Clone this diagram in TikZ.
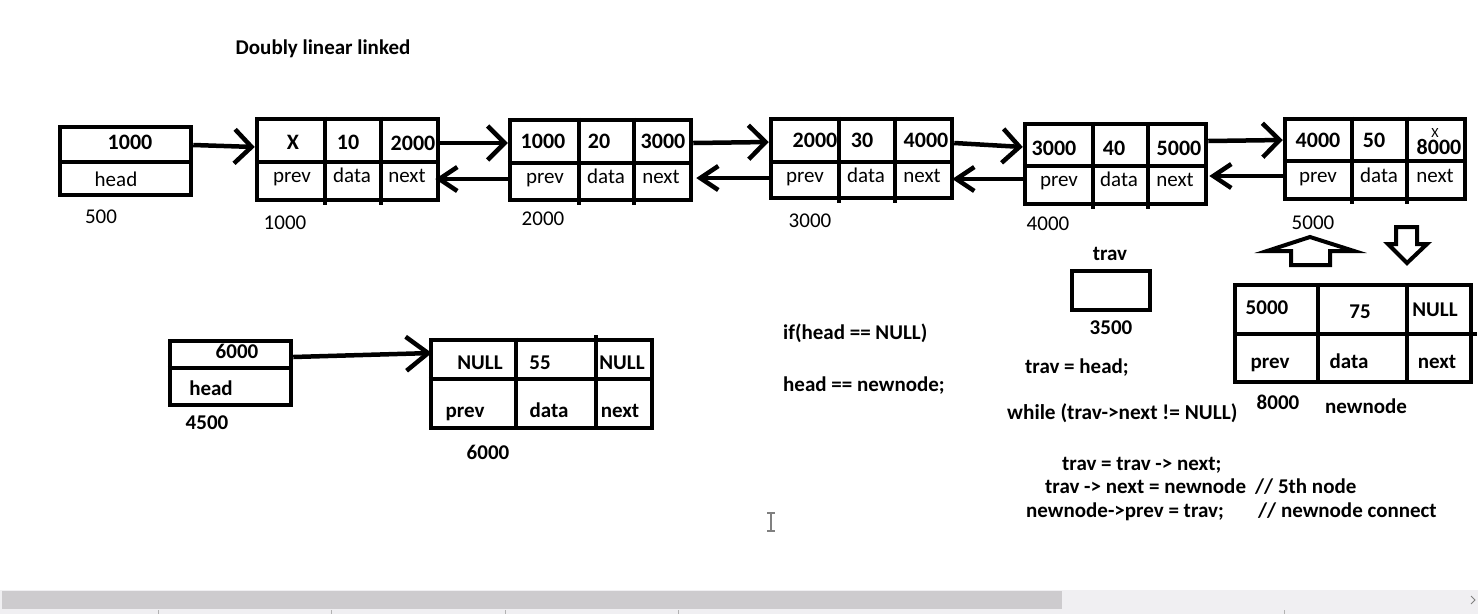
\documentclass[tikz,border=0pt]{standalone}
\usepackage{fontspec}
\setmainfont{Carlito}
\usetikzlibrary{arrows.meta}
\newcommand\fsz{\fontsize{21}{24}\selectfont}
\newcommand\fszv{\fontsize{22}{25}\selectfont}
\definecolor{sbgray}{HTML}{CDCBCE}
\definecolor{sblight}{HTML}{F0EFF2}
\tikzset{
  x=1pt, y=-1pt,
  box/.style={draw, line width=4.5pt, inner sep=0pt},
  thin box/.style={draw, line width=4pt, inner sep=0pt},
  div/.style={line width=4.5pt},
  txt/.style={inner sep=0pt, text height=13.5pt, text depth=0pt, font=\fsz},
  btxt/.style={txt, font=\fsz\bfseries},
  vtxt/.style={txt, font=\fszv\bfseries},
  fwd/.style={line width=4.5pt, -{Straight Barb[length=17pt,width=34pt]}},
  bwd/.style={line width=4.5pt, -{Straight Barb[length=18pt,width=24pt]}},
}
\begin{document}
\begin{tikzpicture}
\useasboundingbox (0,0) rectangle (1478,614);
\fill[white] (0,0) rectangle (1478,614);

% title
\node[btxt] (title) at (323,48) {Doubly linear linked};

% head box (top)
\node[box, minimum width=131pt, minimum height=68pt] (hd) at (125.5,161) {};
\draw[div] (hd.west |- 0,162) -- (hd.east |- 0,162);
\node[vtxt] (hdv) at (130,143) {1000};
\node[txt] (hdl) at (116,180) {head};
\node[txt] (hda) at (101,217) {500};

% node 1000
\node[box, minimum width=181pt, minimum height=81pt] (n1) at (347.5,159.5) {};
\draw[div] (n1.west |- 0,162) -- (n1.east |- 0,162);
\draw[div] (n1.north -| 325,0) -- (325,205);
\draw[div] (n1.north -| 381,0) -- (381,205);
\node[vtxt] (n1a) at (293,143) {X};
\node[vtxt] (n1b) at (348,143) {10};
\node[vtxt] (n1c) at (413,144) {2000};
\node[txt] (n1d) at (292,176) {prev};
\node[txt] (n1e) at (352,176) {data};
\node[txt] (n1f) at (407,176) {next};
\node[txt] (n1l) at (285,223) {1000};

% node 2000
\node[box, minimum width=181pt, minimum height=80pt] (n2) at (600.5,160) {};
\draw[div] (n2.west |- 0,163) -- (n2.east |- 0,163);
\draw[div] (n2.north -| 579,0) -- (579,205);
\draw[div] (n2.north -| 634,0) -- (634,205);
\node[vtxt] (n2a) at (543,142) {1000};
\node[vtxt] (n2b) at (599,142) {20};
\node[vtxt] (n2c) at (663,142) {3000};
\node[txt] (n2d) at (545,177) {prev};
\node[txt] (n2e) at (606,177) {data};
\node[txt] (n2f) at (661,177) {next};
\node[txt] (n2l) at (543,219) {2000};

% node 3000
\node[box, minimum width=181pt, minimum height=79pt] (n3) at (861.5,158.5) {};
\draw[div] (n3.west |- 0,162) -- (n3.east |- 0,162);
\draw[div] (n3.north -| 839,0) -- (839,203);
\draw[div] (n3.north -| 895,0) -- (895,203);
\node[vtxt] (n3a) at (815,141) {2000};
\node[vtxt] (n3b) at (862,141) {30};
\node[vtxt] (n3c) at (926,141) {4000};
\node[txt] (n3d) at (805,176) {prev};
\node[txt] (n3e) at (866,176) {data};
\node[txt] (n3f) at (922,176) {next};
\node[txt] (n3l) at (810,221) {3000};

% node 4000
\node[box, minimum width=181pt, minimum height=80pt] (n4) at (1115.5,164) {};
\draw[div] (n4.west |- 0,166) -- (n4.east |- 0,166);
\draw[div] (n4.north -| 1093,0) -- (1093,209);
\draw[div] (n4.north -| 1148,0) -- (1148,209);
\node[vtxt] (n4a) at (1054,149) {3000};
\node[vtxt] (n4b) at (1114,149) {40};
\node[vtxt] (n4c) at (1179,149) {5000};
\node[txt] (n4d) at (1059,180) {prev};
\node[txt] (n4e) at (1119,180) {data};
\node[txt] (n4f) at (1175,180) {next};
\node[txt] (n4l) at (1048,224) {4000};

% node 5000
\node[box, minimum width=180pt, minimum height=80pt] (n5) at (1375,159) {};
\draw[div] (n5.west |- 0,161) -- (n5.east |- 0,161);
\draw[div] (n5.north -| 1352,0) -- (1352,204);
\draw[div] (n5.north -| 1407,0) -- (1407,204);
\node[vtxt] (n5a) at (1318,141) {4000};
\node[vtxt] (n5b) at (1374,141) {50};
\node[vtxt] (n5c) at (1439,148) {8000};
\node[inner sep=0pt, font=\fontsize{14}{16}\selectfont] (n5x) at (1435,133) {X};
\node[txt] (n5d) at (1318,176) {prev};
\node[txt] (n5e) at (1379,176) {data};
\node[txt] (n5f) at (1435,176) {next};
\node[txt] (n5l) at (1313,223) {5000};

% forward arrows
\draw[fwd] (hd.east |- 0,145) -- (n1.west |- 0,147);
\draw[fwd] (n1.east |- 0,143) -- (n2.west |- 0,143);
\draw[fwd] (n2.east |- 0,143) -- (n3.west |- 0,142);
\draw[fwd] (n3.east |- 0,143) -- (n4.west |- 0,147);
\draw[fwd] (n4.east |- 0,141) -- (n5.west |- 0,140);

% backward arrows
\draw[bwd] (n2.west |- 0,179) -- ([xshift=-5pt]n1.east |- 0,179);
\draw[bwd] (n3.west |- 0,178) -- ([xshift=3pt]n2.east |- 0,178);
\draw[bwd] (n4.west |- 0,179) -- ([xshift=-2pt]n3.east |- 0,179);
\draw[bwd] (n5.west |- 0,176) -- ([xshift=1pt]n4.east |- 0,176);

% block arrows
\draw[line width=4pt, line join=miter] (1310,237) -- (1354,251) -- (1330,251) -- (1330,265) -- (1291,265) -- (1291,251) -- (1267,251) -- cycle;
\draw[line width=4pt, line join=miter] (1396,227) -- (1417,227) -- (1417,244) -- (1427,244) -- (1407,263) -- (1388,244) -- (1396,244) -- cycle;

% trav
\node[btxt] (travl) at (1110,254) {trav};
\node[thin box, minimum width=78pt, minimum height=39pt] (trav) at (1111,290.5) {};
\node[btxt] (trava) at (1111,328) {3500};

% newnode
\node[box, minimum width=236pt, minimum height=97pt] (nn) at (1353,333.5) {};
\draw[div] (nn.west |- 0,334) -- ([xshift=4pt]nn.east |- 0,334);
\draw[div] (nn.north -| 1318,0) -- (nn.south -| 1318,0);
\draw[div] (nn.north -| 1407,0) -- (nn.south -| 1407,0);
\node[btxt] (nna) at (1267,308) {5000};
\node[btxt] (nnb) at (1360,312) {75};
\node[btxt] (nnc) at (1435,310) {NULL};
\node[btxt] (nnd) at (1270,362) {prev};
\node[btxt] (nne) at (1349,362) {data};
\node[btxt] (nnf) at (1437,362) {next};
\node[btxt] (nnl) at (1278,403) {8000};
\node[btxt] (nnn) at (1366,407) {newnode};

% bottom-left head
\node[box, minimum width=121pt, minimum height=64pt] (hd2) at (230.5,373) {};
\draw[div] (hd2.west |- 0,368) -- (hd2.east |- 0,368);
\node[btxt] (hd2v) at (237,352) {6000};
\node[btxt] (hd2l) at (211,389) {head};
\node[btxt] (hd2a) at (207,423) {4500};

% node 6000
\node[box, minimum width=221pt, minimum height=88pt] (n6) at (541.5,384) {};
\draw[div] (n6.west |- 0,379) -- (n6.east |- 0,379);
\draw[div] (n6.north -| 516,0) -- (n6.south -| 516,0);
\draw[div] (596,335) -- (n6.south -| 596,0);
\node[btxt] (n6a) at (480,363) {NULL};
\node[btxt] (n6b) at (540,363) {55};
\node[btxt] (n6c) at (622,363) {NULL};
\node[btxt] (n6d) at (465,411) {prev};
\node[btxt] (n6e) at (549,411) {data};
\node[btxt] (n6f) at (620,411) {next};
\node[btxt] (n6l) at (488,453) {6000};
\draw[line width=4.5pt, -{Straight Barb[length=22pt,width=34pt]}] (hd2.east |- 0,357) -- ([xshift=3pt]n6.west |- 0,353);

% code
\node[btxt, anchor=west] (c1) at (783,333) {if(head == NULL)};
\node[btxt, anchor=west] (c2) at (783,385) {head == newnode;};
\node[btxt, anchor=west] (c3) at (1025,367) {trav = head;};
\node[txt, anchor=west, font=\fontsize{21.3}{24}\selectfont\bfseries] (c4) at (1007,413) {while (trav->next != NULL)};
\node[btxt, anchor=west] (c5) at (1062,464) {trav = trav -> next;};
\node[btxt, anchor=west] (c6) at (1045,487) {trav -> next = newnode};
\node[btxt, anchor=west] (c7) at (1026,511) {newnode->prev = trav;};
\node[btxt, anchor=west] (c8) at (1255,487) {// 5th node};
\node[btxt, anchor=west] (c9) at (1258,511) {// newnode connect};

% text cursor
\draw[gray, line width=1.5pt] (771,513) -- (771,531) (767,513) -- (775,513) (767,531) -- (775,531);

% scrollbar
\fill[sblight] (0,590) rectangle (1478,614);
\fill[sbgray] (2,591) rectangle (1062,609);
\draw[gray!60, line width=0.7pt] (158,610) -- (158,614) (331,610) -- (331,614) (505,610) -- (505,614) (678,610) -- (678,614) (1284,610) -- (1284,614);
\draw[gray, line width=1pt] (1471,596) -- (1475,600) -- (1471,604);
\end{tikzpicture}
\end{document}
